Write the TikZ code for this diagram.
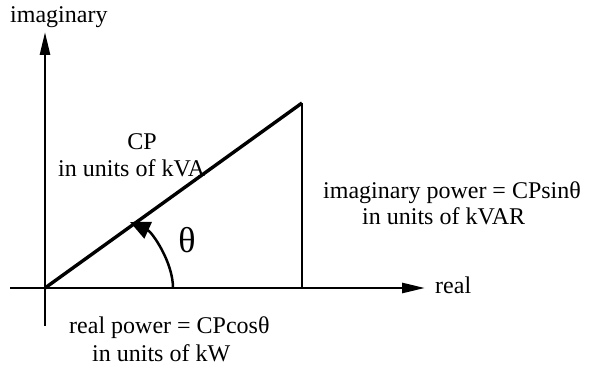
\documentclass[tikz,border=0pt]{standalone}
\usepackage{fontspec}
\setmainfont{Liberation Serif}
\usetikzlibrary{arrows.meta}
\tikzset{
  lbl/.style={inner sep=0pt, font=\fontsize{24}{28}\selectfont},
  axis/.style={line width=2.6pt, -{Triangle[length=23pt,width=10pt]}},
  side/.style={line width=2.8pt},
  hyp/.style={line width=3.4pt},
  anglearrow/.style={line width=2.5pt, -{Triangle[length=20pt,width=18pt]}}
}
\begin{document}
\begin{tikzpicture}[x=1pt,y=-1pt]
\useasboundingbox (0,0) rectangle (589,371);
% key points
\coordinate (O) at (45,288);
\coordinate (xl) at (10,288);
\coordinate (xr) at (425,288);
\coordinate (yb) at (45,326);
\coordinate (yt) at (45,32);
\coordinate (A) at (302,103);
\coordinate (B) at (302,288);
\coordinate (arcS) at (173,288);
\coordinate (arcT) at (130,222);
% axes
\draw[axis] (xl) -- (xr);
\draw[axis] (yb) -- (yt);
% triangle
\draw[hyp] (O) -- (A);
\draw[side] (A) -- (B);
% angle arrow
\draw[anglearrow] (arcS) .. controls (173,262) and (152,232) .. (arcT);
% labels
\node[lbl, anchor=base west] (limag) at (10,23) {imaginary};
\node[lbl, anchor=base west] (lreal) at (435,294) {real};
\node[lbl, anchor=base] (lcp) at (142,150) {CP};
\node[lbl, anchor=base west] (lcpu) at (58,177) {in units of kVA};
\node[inner sep=0pt, font=\fontsize{36}{40}\selectfont] (ltheta) at (187,240) {θ};
\node[lbl, anchor=base west] (lip) at (323,199) {imaginary power = CPsinθ};
\node[lbl, anchor=base west] (lipu) at (362,225) {in units of kVAR};
\node[lbl, anchor=base west] (lrp) at (69,334) {real power = CPcosθ};
\node[lbl, anchor=base west] (lrpu) at (92,361) {in units of kW};
\end{tikzpicture}
\end{document}
